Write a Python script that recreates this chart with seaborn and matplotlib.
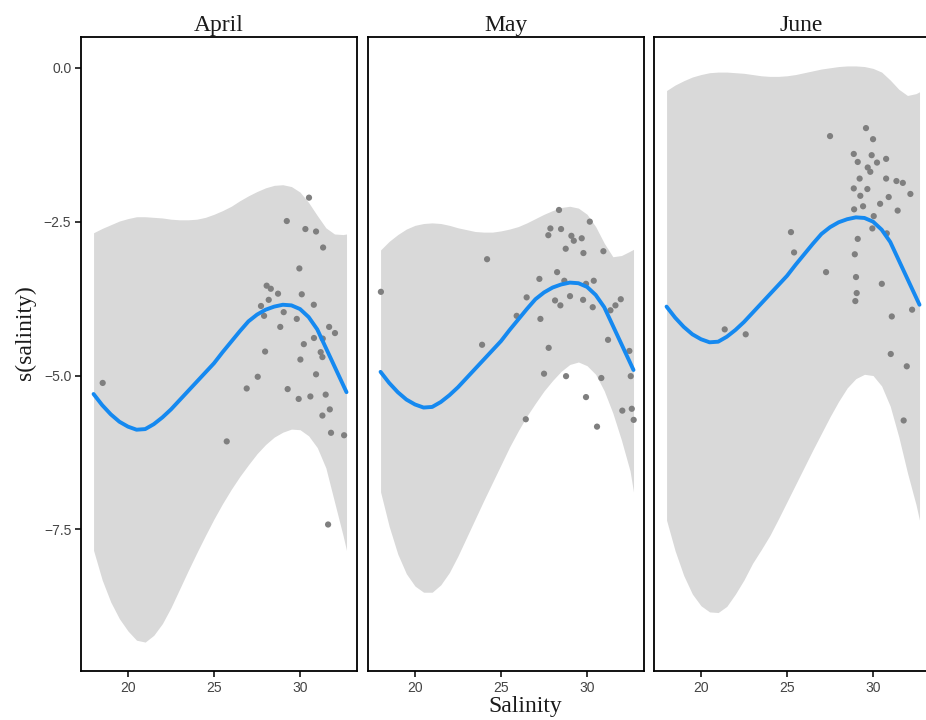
import numpy as np
import pandas as pd
import matplotlib
matplotlib.use("Agg")
import matplotlib.pyplot as plt
import seaborn as sns

sns.set_theme(style="white")
plt.rcParams['font.family'] = ['Liberation Sans', 'DejaVu Sans']

# 月份
months = ["April", "May", "June"]

# 平滑曲线和置信带 (salinity 网格)
sal_grid = [18.0, 18.5, 19.0, 19.5, 20.0, 20.5, 21.0, 21.5, 22.0, 22.5, 23.0,
            23.5, 24.0, 24.5, 25.0, 25.5, 26.0, 26.5, 27.0, 27.5, 28.0, 28.5,
            29.0, 29.5, 30.0, 30.5, 31.0, 31.5, 32.0, 32.5, 32.7]

april_fit = [-5.30, -5.48, -5.63, -5.75, -5.83, -5.88, -5.87, -5.79, -5.68, -5.55, -5.40,
             -5.25, -5.10, -4.95, -4.80, -4.62, -4.45, -4.28, -4.12, -4.01, -3.93, -3.88,
             -3.85, -3.86, -3.92, -4.05, -4.25, -4.55, -4.85, -5.15, -5.27]
april_upper = [-2.68, -2.61, -2.55, -2.49, -2.45, -2.42, -2.42, -2.43, -2.44, -2.46, -2.47,
               -2.47, -2.46, -2.43, -2.38, -2.32, -2.25, -2.16, -2.08, -2.01, -1.95, -1.91,
               -1.90, -1.93, -2.02, -2.19, -2.40, -2.60, -2.70, -2.71, -2.70]
april_lower = [-7.84, -8.32, -8.68, -8.95, -9.15, -9.30, -9.33, -9.22, -9.03, -8.77, -8.47,
               -8.17, -7.88, -7.60, -7.33, -7.08, -6.85, -6.64, -6.45, -6.27, -6.12, -6.00,
               -5.92, -5.87, -5.88, -5.98, -6.17, -6.50, -7.05, -7.60, -7.84]

may_fit = [-4.94, -5.12, -5.27, -5.39, -5.47, -5.52, -5.51, -5.43, -5.32, -5.19, -5.04,
           -4.89, -4.74, -4.59, -4.44, -4.26, -4.09, -3.92, -3.76, -3.65, -3.57, -3.52,
           -3.49, -3.50, -3.56, -3.69, -3.89, -4.19, -4.49, -4.79, -4.91]
may_upper = [-2.96, -2.82, -2.71, -2.62, -2.56, -2.53, -2.52, -2.53, -2.56, -2.60, -2.63,
             -2.66, -2.67, -2.67, -2.65, -2.62, -2.58, -2.52, -2.45, -2.38, -2.32, -2.27,
             -2.25, -2.28, -2.38, -2.58, -2.85, -3.07, -3.05, -2.98, -2.95]
may_lower = [-6.89, -7.45, -7.90, -8.22, -8.42, -8.52, -8.52, -8.40, -8.20, -7.93, -7.63,
             -7.33, -7.03, -6.74, -6.45, -6.16, -5.90, -5.66, -5.45, -5.25, -5.08, -4.93,
             -4.82, -4.78, -4.84, -4.98, -5.25, -5.61, -6.05, -6.55, -6.89]

june_fit = [-3.88, -4.06, -4.21, -4.33, -4.41, -4.46, -4.45, -4.37, -4.26, -4.13, -3.98,
            -3.83, -3.68, -3.53, -3.38, -3.20, -3.03, -2.86, -2.70, -2.59, -2.51, -2.46,
            -2.43, -2.44, -2.50, -2.63, -2.83, -3.13, -3.43, -3.73, -3.85]
june_upper = [-0.37, -0.28, -0.21, -0.15, -0.11, -0.08, -0.07, -0.07, -0.08, -0.09, -0.11,
              -0.13, -0.14, -0.14, -0.13, -0.11, -0.08, -0.05, -0.02, 0.00, 0.02, 0.03,
              0.03, 0.02, -0.01, -0.07, -0.20, -0.35, -0.45, -0.42, -0.39]
june_lower = [-7.35, -7.85, -8.25, -8.55, -8.74, -8.84, -8.85, -8.75, -8.55, -8.32, -8.05,
              -7.83, -7.60, -7.33, -7.05, -6.77, -6.49, -6.21, -5.94, -5.67, -5.42, -5.20,
              -5.05, -4.98, -5.00, -5.17, -5.50, -6.00, -6.58, -7.10, -7.35]

# 残差点
april_sal = [18.53, 25.74, 26.90, 27.54, 27.73, 27.91, 27.97, 28.06, 28.18, 28.30,
             28.72, 28.85, 29.05, 29.23, 29.28, 29.81, 29.92, 29.96, 30.02, 30.10,
             30.22, 30.31, 30.52, 30.60, 30.80, 30.81, 30.93, 30.93, 31.20, 31.30,
             31.32, 31.30, 31.34, 31.49, 31.63, 31.69, 31.73, 31.80, 32.03, 32.56]
april_s = [-5.12, -6.07, -5.21, -5.02, -3.87, -4.03, -4.61, -3.54, -3.77, -3.59,
           -3.67, -4.21, -3.97, -2.49, -5.22, -4.08, -5.38, -3.26, -4.74, -3.68,
           -4.49, -2.62, -2.11, -5.34, -3.85, -4.39, -2.66, -4.98, -4.62, -4.70,
           -4.40, -5.65, -2.92, -5.31, -7.42, -4.21, -5.55, -5.93, -4.31, -5.97]

may_sal = [18.02, 24.19, 23.90, 25.91, 26.49, 26.44, 27.29, 27.23, 27.50, 27.77,
           27.75, 27.87, 28.37, 28.26, 28.14, 28.45, 28.49, 28.68, 28.76, 28.78,
           29.01, 29.09, 29.23, 29.69, 29.79, 29.77, 29.94, 29.94, 30.16, 30.39,
           30.33, 30.58, 30.83, 30.95, 31.22, 31.36, 31.65, 31.96, 32.05, 32.46,
           32.54, 32.60, 32.71]
may_s = [-3.64, -3.11, -4.50, -4.03, -3.73, -5.71, -4.08, -3.43, -4.97, -4.55,
         -2.72, -2.61, -2.31, -3.32, -3.78, -3.86, -2.62, -3.46, -2.94, -5.01,
         -3.71, -2.73, -2.81, -2.77, -3.01, -3.77, -3.51, -5.35, -2.50, -3.46,
         -3.89, -5.83, -5.04, -2.98, -4.42, -3.94, -3.86, -3.76, -5.57, -4.60,
         -5.01, -5.54, -5.72]

june_sal = [27.50, 29.59, 30.00, 28.88, 29.11, 29.92, 30.23, 30.76, 29.69, 29.84,
            29.22, 30.76, 31.36, 31.73, 28.88, 29.67, 29.26, 30.91, 32.17, 30.41,
            29.42, 28.90, 31.43, 30.04, 29.96, 30.80, 29.11, 25.23, 25.41, 28.94,
            27.27, 29.01, 30.51, 29.05, 28.97, 32.27, 31.09, 21.38, 22.60, 31.03,
            31.96, 31.78]
june_s = [-1.11, -0.98, -1.16, -1.40, -1.53, -1.42, -1.54, -1.48, -1.62, -1.69,
          -1.80, -1.80, -1.84, -1.87, -1.96, -1.97, -2.08, -2.10, -2.05, -2.21,
          -2.25, -2.30, -2.32, -2.41, -2.61, -2.69, -2.78, -2.67, -3.00, -3.03,
          -3.32, -3.40, -3.51, -3.66, -3.79, -3.93, -4.04, -4.25, -4.33, -4.65,
          -4.85, -5.73]

fits = {"April": (april_fit, april_upper, april_lower),
        "May": (may_fit, may_upper, may_lower),
        "June": (june_fit, june_upper, june_lower)}
points = {"April": (april_sal, april_s), "May": (may_sal, may_s), "June": (june_sal, june_s)}

fit_df = pd.concat([pd.DataFrame({"month": m, "salinity": sal_grid, "fit": fits[m][0],
                                  "upper": fits[m][1], "lower": fits[m][2]}) for m in months])
pts_df = pd.concat([pd.DataFrame({"month": m, "salinity": points[m][0], "s": points[m][1]})
                    for m in months])

W, H = 926, 720
fig = plt.figure(figsize=(W / 100, H / 100), dpi=100)
fig.patch.set_facecolor("white")

panel_left = [81, 368, 654]
title_x = [219, 506, 801]
serif = ['Liberation Serif', 'DejaVu Serif']

for i, m in enumerate(months):
    ax = fig.add_axes([panel_left[i] / W, 49 / H, 276 / W, 634 / H])
    f = fit_df[fit_df.month == m]
    ax.fill_between(f["salinity"], f["lower"], f["upper"], color="#D9D9D9", lw=0, zorder=1)
    sns.scatterplot(data=pts_df[pts_df.month == m], x="salinity", y="s", ax=ax,
                    color="#7F7F7F", s=20, edgecolor="none", legend=False, zorder=2)
    sns.lineplot(data=f, x="salinity", y="fit", ax=ax, color="#1589F0", lw=2.8,
                 estimator=None, zorder=3)
    ax.set_xlim(17.27, 33.31)
    ax.set_ylim(-9.8, 0.5)
    ax.set_xticks([20, 25, 30])
    ax.set_xticklabels(["20", "25", "30"])
    ax.set_yticks([0, -2.5, -5, -7.5])
    ax.set_yticklabels(["0.0", "\u22122.5", "\u22125.0", "\u22127.5"])
    ax.set_xlabel("")
    ax.set_ylabel("")
    ax.tick_params(axis="both", length=4, width=1.1, color="black", labelsize=10,
                   labelcolor="#444444", pad=3, bottom=True, left=(i == 0), labelleft=(i == 0))
    for sp in ax.spines.values():
        sp.set_visible(True)
        sp.set_color("black")
        sp.set_linewidth(1.3)
    ax.set_facecolor("white")
    fig.text(title_x[i] / W, 1 - 31 / H, m, ha="center", va="baseline",
             fontsize=17, family=serif, color="#1A1A1A")

fig.text(525 / W, 1 - 712 / H, "Salinity", ha="center", va="baseline",
         fontsize=17, family=serif, color="#1A1A1A")
fig.text(25 / W, 1 - 333 / H, "s(salinity)", ha="center", va="center", rotation=90,
         fontsize=17, family=serif, color="#1A1A1A")

fig.savefig("out.png", dpi=100, facecolor="white")
